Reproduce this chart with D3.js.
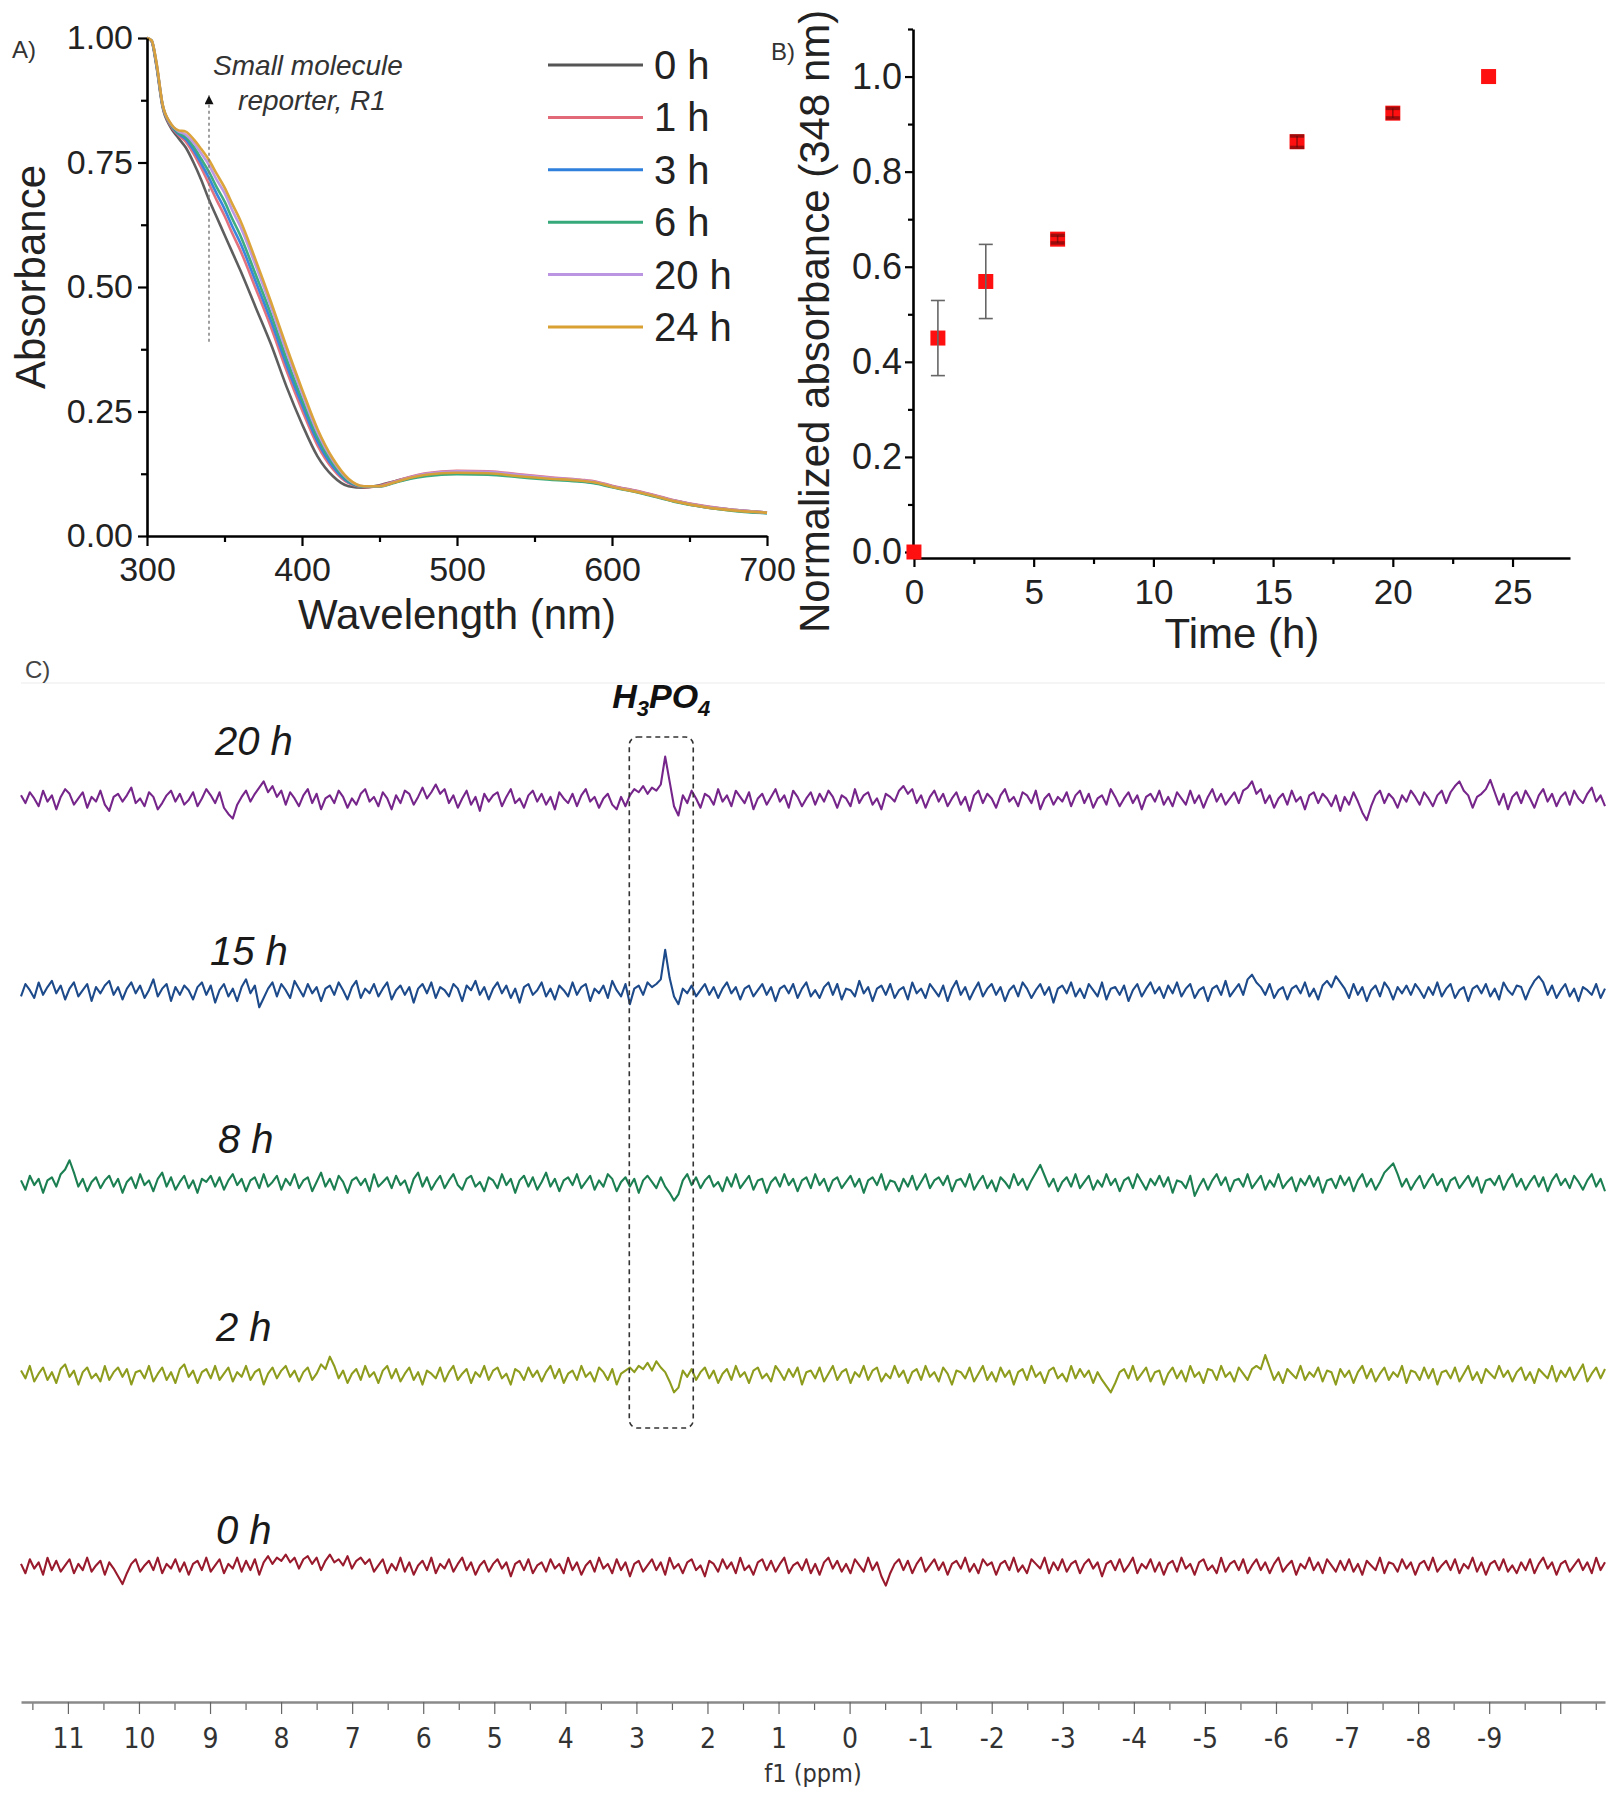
<!DOCTYPE html>
<html><head><meta charset="utf-8">
<script src="https://cdn.jsdelivr.net/npm/d3@7"></script>
<style>
body{margin:0;background:#fff;}
svg{display:block;}
</style></head><body>
<svg id="fig" width="1619" height="1800"></svg>
<script>
// ---------------- DATA ----------------
// Panel A: UV-vis spectra
const wavelengths = [300,303,306,310,315,320,325,330,335,340,345,350,355,360,370,380,390,400,410,420,430,440,450,460,470,480,500,520,540,560,580,590,600,620,640,660,680,700];
const spectrumLabels = ["0 h","1 h","3 h","6 h","20 h","24 h"];
const abs0h  = [1.00,.993,.945,.862,.822,.800,.780,.750,.715,.675,.640,.605,.570,.535,.460,.385,.300,.225,.160,.120,.100,.097,.102,.110,.118,.124,.128,.127,.121,.116,.111,.107,.100,.087,.071,.059,.052,.047];
const abs1h  = [1.00,.994,.948,.865,.825,.806,.792,.768,.739,.707,.674,.643,.608,.575,.498,.419,.332,.253,.182,.134,.106,.098,.101,.110,.119,.126,.131,.130,.124,.118,.113,.109,.101,.088,.072,.060,.052,.047];
const abs3h  = [1.00,.994,.949,.866,.827,.808,.797,.775,.748,.719,.687,.657,.622,.590,.512,.432,.344,.264,.190,.139,.108,.099,.100,.108,.116,.122,.126,.125,.120,.115,.110,.106,.099,.086,.070,.058,.051,.046];
const abs6h  = [1.00,.995,.950,.866,.828,.810,.801,.782,.757,.731,.700,.672,.637,.605,.526,.445,.356,.274,.198,.145,.110,.099,.099,.107,.115,.120,.124,.123,.118,.113,.109,.105,.098,.085,.069,.058,.050,.046];
const abs20h = [1.00,.995,.952,.867,.829,.813,.806,.790,.768,.745,.715,.689,.654,.623,.544,.460,.370,.287,.208,.151,.113,.100,.100,.109,.118,.125,.130,.129,.123,.117,.112,.108,.100,.087,.071,.059,.052,.047];
const abs24h = [1.00,.995,.953,.868,.830,.815,.812,.797,.777,.755,.727,.700,.667,.635,.555,.470,.380,.295,.215,.155,.115,.100,.100,.108,.117,.123,.127,.126,.120,.115,.111,.107,.099,.086,.070,.058,.051,.047];
const spectraValues = [abs0h, abs1h, abs3h, abs6h, abs20h, abs24h];
const spectraColors = ["#555555","#e26a78","#2f7fdc","#36a97a","#bb94e2","#d9a032"];
const absTicks = [0,0.25,0.5,0.75,1.0];
const absMinorTicks = [0.125,0.375,0.625,0.875];
const wlTicks = [300,400,500,600,700];
const wlMinorTicks = [350,450,550,650];

// Panel B: normalized absorbance at 348 nm
const timeH   = [0,1,3,6,16,20,24];
const normAbs = [0,0.450,0.569,0.658,0.863,0.923,1.000];
const normErr = [0,0.079,0.078,0.008,0.012,0.010,0];
const timeTicks = [0,5,10,15,20,25];
const timeMinorTicks = [2.5,7.5,12.5,17.5,22.5];
const normTicks = [0,0.2,0.4,0.6,0.8,1.0];
const normMinorTicks = [0.1,0.3,0.5,0.7,0.9,1.1];

// Panel C: 31P NMR traces (arbitrary intensity units), sampled from 11.66 to -10.63 ppm
const nmrLabels = ["20 h","15 h","8 h","2 h","0 h"];
const nmrColors = ["#76268a","#1d4a8a","#1b7f52","#8e9c1e","#981a2c"];
const ppmStart = 11.66, ppmEnd = -10.63;
const nmr20h = [3,-2,5,1,-4,6,-1,3,-6,2,7,4,-3,1,5,-5,2,-1,6,-3,
-7,2,4,-1,3,8,-2,1,-4,5,2,-6,-2,3,6,-1,4,-3,0,5,
-4,1,7,3,-2,5,-5,-9,-12,-3,2,6,-1,4,8,12,5,9,2,6,
-3,5,1,-4,3,7,-2,4,-6,1,3,-2,6,2,-5,1,-3,4,7,-1,
2,-4,5,1,-6,3,-2,6,4,-3,2,8,1,5,10,4,7,-2,3,-5,
1,6,-3,2,-7,4,-1,3,5,-4,2,7,-2,1,-5,3,6,-1,4,-3,
2,-6,5,1,-2,4,-4,3,7,-1,2,-5,1,4,-3,-6,2,-4,3,7,
5,9,4,8,6,10,28,12,-4,-10,3,-2,6,1,-5,4,2,-3,7,-1,
3,-4,6,2,-2,5,-6,1,4,-3,2,7,-1,3,-5,6,2,-4,1,5,
-3,4,-1,6,2,-5,3,1,-4,7,-2,3,5,-3,1,-6,4,2,-1,6,
9,4,7,-2,3,-5,2,6,-1,4,-4,1,5,-3,2,-7,3,6,-2,4,
1,-5,3,7,-1,2,-4,5,3,-2,6,-6,1,4,-3,2,-1,5,-4,3,
6,-2,4,-5,1,3,-3,7,2,-4,1,5,-2,3,-6,2,4,-1,6,-3,
2,-4,5,1,-3,6,-2,3,-5,2,7,-1,4,-3,1,5,-2,6,8,12,
4,7,-2,3,-5,1,4,-3,6,-1,2,-6,3,5,-2,4,1,-4,3,-7,
2,-3,5,-1,-8,-13,-4,3,6,-2,4,1,-5,3,-1,6,2,-3,5,1,
-4,3,6,-2,5,9,12,6,3,-5,2,4,7,13,5,-3,4,-6,2,5,
-2,6,1,-5,3,7,-1,4,-4,2,5,-3,6,1,-2,4,8,-1,3,-4];
const nmr15h = [-3,5,1,-4,6,-2,3,7,-1,4,-5,2,6,-3,1,5,-6,3,-1,4,
7,-2,3,-5,2,6,-1,4,-4,1,8,-3,2,5,-6,3,-2,4,1,-5,
3,6,-2,4,-7,1,5,-3,2,-6,3,8,-1,4,-10,-4,2,6,-3,5,
1,-4,7,2,-3,5,-1,3,-6,2,4,-2,6,1,-5,3,7,-4,2,-1,
5,-3,2,6,-5,1,4,-2,3,-7,2,5,-1,6,-4,3,1,-3,5,2,
-6,4,1,7,-2,3,-5,2,6,-1,4,-4,2,-7,3,5,-2,1,6,-3,
2,-5,4,1,-3,6,-2,3,5,-6,2,-1,4,-4,7,1,-3,5,-8,2,
4,-2,6,3,5,8,27,9,-3,-8,2,-1,4,-3,1,5,-2,3,-4,2,
6,-1,3,-5,2,4,-3,1,5,-2,3,-6,2,4,-1,5,-4,2,6,-3,
1,-4,3,6,-2,5,-5,2,1,-3,7,-1,3,-6,2,4,-2,5,-4,1,
3,-5,6,-1,2,-4,5,1,-3,4,-6,2,7,-2,3,-5,1,6,-3,2,
5,-2,3,-6,1,4,-3,6,2,-4,1,5,-2,3,-7,2,4,-1,6,-3,
2,-4,5,1,-3,6,-5,2,3,-2,4,-6,1,5,-3,2,6,-1,3,-4,
4,-1,6,-3,2,5,-4,1,3,-6,2,4,-2,7,-3,1,5,-2,8,11,
6,3,-2,5,-4,1,3,-5,2,4,-1,6,-3,2,-5,4,7,3,10,6,
2,-4,5,-2,3,-6,1,4,-3,6,2,-5,3,-1,4,-2,5,1,-4,3,
-2,6,-3,2,5,-4,1,3,-6,2,4,-1,5,-3,2,-5,6,1,-2,4,
3,-5,2,7,10,6,-2,4,-4,1,5,-3,2,-6,3,1,-2,5,-4,2];
const nmr8h = [2,-4,5,-1,3,-6,2,4,-2,6,9,15,7,-2,3,-5,1,4,-3,2,
5,-2,3,-6,1,4,-3,6,-1,2,-5,3,7,-2,4,-4,1,5,-3,2,
-6,3,1,5,-2,4,-4,2,6,-1,3,-5,2,4,-3,6,-2,1,5,-4,
3,-1,6,-3,2,4,-5,1,7,-2,3,-4,5,1,-6,2,4,-1,3,-5,
6,-2,1,4,-3,5,-1,2,-6,3,7,-2,4,-4,1,5,-3,2,6,-1,
-4,3,5,-2,1,-5,4,2,-3,6,-1,3,-6,2,5,-2,4,-4,1,7,
-2,3,-5,2,4,-1,6,-3,1,5,-4,2,-2,6,3,-5,1,4,-2,3,
-6,2,5,1,-3,4,-2,-6,-11,-7,2,6,-1,4,-3,2,5,-2,1,-5,
4,-2,6,-3,1,5,-4,2,3,-6,1,4,-2,6,-1,3,-5,2,4,-3,
6,-1,3,-5,2,4,-3,1,5,-2,3,-6,2,4,-1,6,-4,2,1,-5,
3,-2,5,-4,1,6,-3,2,4,-1,5,-5,2,3,-2,6,-4,1,5,-3,
2,-5,4,1,-3,6,-1,3,-4,2,7,12,5,-2,3,-5,1,4,-2,6,
-3,1,5,-4,2,-2,6,-1,3,-5,2,4,-3,6,1,-4,3,-1,5,-2,
4,-6,2,1,-3,5,-8,-2,3,-4,2,6,-1,4,-5,2,3,-2,6,-3,
1,5,-4,2,-2,6,-3,1,4,-5,3,-1,5,-2,4,-6,2,3,-3,5,
-1,4,-5,2,6,-2,3,-4,1,7,10,13,6,-2,3,-4,1,5,-3,2,
6,-1,3,-5,2,4,-3,1,5,-2,4,-6,2,3,-1,5,-4,2,6,-2,
3,-4,1,5,-2,4,-5,2,6,-1,3,-3,5,1,-4,2,6,-2,3,-5];
const nmr2h = [3,-2,6,-4,1,5,-3,2,-5,4,7,-1,3,-6,2,5,-2,1,-4,6,
-3,2,5,-1,4,-6,2,3,-2,6,-4,1,5,-3,2,-5,4,7,-1,3,
-5,2,4,-2,6,-3,1,5,-4,2,-1,6,-3,2,4,-6,1,5,-2,3,
6,-1,3,-4,2,5,-3,1,7,4,12,6,-2,3,-5,1,4,-3,6,-1,
2,-5,3,6,-2,4,-4,1,5,-3,2,-6,3,1,-2,5,-4,2,6,-3,
1,4,-5,2,-1,6,-3,3,5,-2,1,-6,4,2,-3,5,-1,3,-4,2,
6,-2,4,-5,1,3,-3,6,-1,2,-4,5,2,-3,4,-6,1,3,5,2,
6,4,8,3,9,5,2,-4,-11,-8,3,-1,4,-3,2,5,-2,3,-5,1,
4,-3,6,-1,2,-5,3,5,-2,1,-4,6,2,-3,4,-1,5,-6,2,3,
-2,5,-4,1,6,-3,2,4,-5,2,-1,6,-3,3,5,-4,1,-2,6,-1,
3,-5,2,4,-3,6,-1,2,-4,5,1,-6,3,2,-2,5,-4,1,6,-3,
2,-4,5,-1,3,-6,2,4,-3,6,-1,2,-5,3,5,-2,1,-4,6,-2,
4,-1,3,-5,2,-3,-7,-11,-5,2,4,-2,6,-3,1,5,-4,2,3,-6,
1,5,-2,3,-4,6,-1,2,-5,4,3,-3,6,-1,2,-4,5,1,-3,4,
6,4,13,5,-3,2,-5,4,1,-2,6,-3,2,-1,5,-4,3,2,-6,4,
-1,3,-5,2,6,-2,4,-4,1,5,-3,2,-1,6,-5,3,2,-3,5,-2,
4,-6,2,3,-2,5,-4,1,6,-3,2,-5,4,1,-2,6,-1,3,-4,2,
5,-3,2,-5,4,1,-2,6,-4,3,-1,5,-3,2,7,-4,1,5,-2,4];
const nmr0h = [2,-4,5,-1,3,-5,6,-2,4,-3,1,5,-4,2,-2,6,-3,1,4,-5,
3,-1,-6,-11,-4,2,5,-3,1,4,-2,6,-4,2,-1,5,-3,3,-5,2,
4,-2,6,-3,1,5,-4,2,-1,6,-3,4,-2,5,-5,3,7,2,6,4,
8,3,6,-1,5,7,2,6,-2,4,8,3,5,1,7,-1,4,6,2,5,
-3,1,5,-4,2,-2,6,-3,3,-5,1,4,-2,6,-4,2,-1,5,-3,2,
6,-2,3,-5,1,4,-3,2,5,-1,3,-6,2,4,-2,5,-4,1,3,-3,
5,-1,2,-4,6,-2,3,-5,1,4,-3,6,-1,2,-4,5,-2,3,-6,2,
4,-3,1,5,-2,3,-5,6,-1,2,-4,3,5,-2,1,-6,4,2,-3,5,
-1,3,-4,6,-2,1,-5,3,5,-2,4,-3,2,6,-4,1,3,-2,5,-4,
2,-5,3,6,-1,4,-3,2,-4,5,1,-3,6,-2,3,-6,-12,-4,2,5,
-2,4,-4,2,6,-3,1,5,-2,3,-5,2,4,-1,6,-3,2,-4,5,1,
3,-5,2,4,-2,6,-3,1,-4,5,2,-1,6,-4,3,-2,5,-3,2,4,
-4,2,5,-1,3,-6,2,4,-2,5,-3,1,6,-4,2,-1,5,-3,3,-5,
2,4,-3,6,-1,2,-5,3,5,-2,1,-4,6,-3,2,4,-2,5,-4,1,
5,-2,3,-4,2,6,-3,1,4,-5,2,-1,6,-2,3,-4,5,1,-3,4,
-2,5,-3,2,-5,4,1,-2,6,-4,3,2,-3,5,-1,3,-5,2,4,-2,
6,-3,1,4,-2,5,-4,2,-1,6,-3,3,-5,2,4,-2,5,-3,1,-4,
3,-2,5,-4,2,6,-1,3,-5,2,4,-3,1,5,-2,3,-4,6,-2,3];
const nmrValues = [nmr20h, nmr15h, nmr8h, nmr2h, nmr0h];
const ppmTickLabels = [11,10,9,8,7,6,5,4,3,2,1,0,-1,-2,-3,-4,-5,-6,-7,-8,-9];
const ppmMajorTicks = [11,10,9,8,7,6,5,4,3,2,1,0,-1,-2,-3,-4,-5,-6,-7,-8,-9,-10];
const ppmMinorTicks = [11.5,10.5,9.5,8.5,7.5,6.5,5.5,4.5,3.5,2.5,1.5,0.5,-0.5,-1.5,-2.5,-3.5,-4.5,-5.5,-6.5,-7.5,-8.5,-9.5,-10.5];
const boxPpm = [3.1, 2.2];

// ---------------- DRAW ----------------
const svg = d3.select("#fig");
const FONT = "'Liberation Sans', Arial, Helvetica, sans-serif";
svg.append("rect").attr("width",1619).attr("height",1800).attr("fill","#fff");

function styleAxis(g, fs){
  g.selectAll("path.domain").attr("stroke","#000").attr("stroke-width",2.6);
  g.selectAll(".tick line").attr("stroke","#000").attr("stroke-width",2.2);
  g.selectAll(".tick text").attr("font-family",FONT).attr("font-size",fs).attr("fill","#222");
}

// ===== Panel A =====
const xA = d3.scaleLinear().domain([300,700]).range([147,767]);
const yA = d3.scaleLinear().domain([0,1]).range([536,38]);
const gA = svg.append("g");

const line = d3.line().curve(d3.curveMonotoneX);
spectraValues.forEach((vals,i)=>{
  gA.append("path")
    .attr("d", line(wavelengths.map((w,j)=>[xA(w), yA(vals[j])])))
    .attr("fill","none").attr("stroke",spectraColors[i]).attr("stroke-width",2.6).attr("stroke-opacity",0.95);
});

gA.append("g").attr("transform","translate(0,536)")
  .call(d3.axisBottom(xA).tickValues(wlMinorTicks).tickSize(6).tickSizeOuter(0).tickFormat(""))
  .call(g=>{styleAxis(g,34); g.select(".domain").remove();});
gA.append("g").attr("transform","translate(147,0)")
  .call(d3.axisLeft(yA).tickValues(absMinorTicks).tickSize(6).tickSizeOuter(0).tickFormat(""))
  .call(g=>{styleAxis(g,34); g.select(".domain").remove();});
gA.append("g").attr("transform","translate(0,536)")
  .call(d3.axisBottom(xA).tickValues(wlTicks).tickSize(10).tickSizeOuter(0).tickPadding(11).tickFormat(d3.format("d")))
  .call(g=>styleAxis(g,34));
gA.append("g").attr("transform","translate(147,0)")
  .call(d3.axisLeft(yA).tickValues(absTicks).tickSize(9).tickSizeOuter(0).tickPadding(5).tickFormat(d3.format(".2f")))
  .call(g=>styleAxis(g,34));

gA.append("text").attr("x",xA(500)).attr("y",629).attr("text-anchor","middle")
  .attr("font-family",FONT).attr("font-size",42).attr("fill","#222").text("Wavelength (nm)");
gA.append("text").attr("transform","translate(45,"+yA(0.52)+") rotate(-90)").attr("text-anchor","middle")
  .attr("font-family",FONT).attr("font-size",42).attr("fill","#222").text("Absorbance");

// annotation arrow
svg.append("defs").append("marker").attr("id","arr").attr("viewBox","0 0 10 10")
  .attr("refX",10).attr("refY",5).attr("markerWidth",11).attr("markerHeight",9).attr("orient","auto")
  .attr("markerUnits","userSpaceOnUse")
  .append("path").attr("d","M0,0 L10,5 L0,10 Z").attr("fill","#111");
gA.append("line").attr("x1",xA(340)).attr("x2",xA(340)).attr("y1",yA(0.39)).attr("y2",yA(0.885))
  .attr("stroke","#777").attr("stroke-width",1.4).attr("stroke-dasharray","3,3")
  .attr("marker-end","url(#arr)");
gA.append("text").attr("x",308).attr("y",75).attr("text-anchor","middle").attr("font-family",FONT)
  .attr("font-style","italic").attr("font-size",28).attr("fill","#333").text("Small molecule");
gA.append("text").attr("x",312).attr("y",110).attr("text-anchor","middle").attr("font-family",FONT)
  .attr("font-style","italic").attr("font-size",28).attr("fill","#333").text("reporter, R1");

// legend
const legY = d3.scalePoint().domain(spectrumLabels).range([65,327]);
spectrumLabels.forEach((lab,i)=>{
  gA.append("line").attr("x1",548).attr("x2",643).attr("y1",legY(lab)).attr("y2",legY(lab))
    .attr("stroke",spectraColors[i]).attr("stroke-width",3);
  gA.append("text").attr("x",654).attr("y",legY(lab)+14).attr("font-family",FONT).attr("font-size",40)
    .attr("fill","#222").text(lab);
});
svg.append("text").attr("x",12).attr("y",58).attr("font-family",FONT).attr("font-size",24).attr("fill","#333").text("A)");

// ===== Panel B =====
const xB = d3.scaleLinear().domain([-0.04,27.4]).range([913,1570]);
const yB = d3.scaleLinear().domain([-0.0126,1.1]).range([558,29]);
const gB = svg.append("g");
gB.append("g").attr("transform","translate(0,558)")
  .call(d3.axisBottom(xB).tickValues(timeMinorTicks).tickSize(6).tickSizeOuter(0).tickFormat(""))
  .call(g=>{styleAxis(g,34); g.select(".domain").remove();});
gB.append("g").attr("transform","translate(913,0)")
  .call(d3.axisLeft(yB).tickValues(normMinorTicks).tickSize(5).tickSizeOuter(0).tickFormat(""))
  .call(g=>{styleAxis(g,34); g.select(".domain").remove();});
gB.append("g").attr("transform","translate(0,558)")
  .call(d3.axisBottom(xB).tickValues(timeTicks).tickSize(9).tickSizeOuter(0).tickPadding(12).tickFormat(d3.format("d")))
  .call(g=>styleAxis(g,35));
gB.append("g").attr("transform","translate(913,0)")
  .call(d3.axisLeft(yB).tickValues(normTicks).tickSize(8).tickSizeOuter(0).tickPadding(3).tickFormat(d3.format(".1f")))
  .call(g=>styleAxis(g,36));

const sq = d3.symbol(d3.symbolSquare, 15*15);
timeH.forEach((t,i)=>{
  gB.append("path").attr("d",sq()).attr("transform",`translate(${xB(t)},${yB(normAbs[i])})`).attr("fill","#ff1010");
});
timeH.forEach((t,i)=>{
  if(normErr[i]<=0) return;
  const x = xB(t), y1 = yB(normAbs[i]-normErr[i]), y2 = yB(normAbs[i]+normErr[i]);
  const big = normErr[i] > 0.03;
  const col = big ? "#666" : "#5a0a0a";
  gB.append("line").attr("x1",x).attr("x2",x).attr("y1",y1).attr("y2",y2).attr("stroke",col).attr("stroke-width",1.6).attr("stroke-opacity",big?1:0.6);
  [y1,y2].forEach(y=>gB.append("line").attr("x1",x-7).attr("x2",x+7).attr("y1",y).attr("y2",y)
    .attr("stroke",col).attr("stroke-width", big ? 1.6 : 3.5).attr("stroke-opacity",big?1:0.6));
});
gB.append("text").attr("x",xB(13.7)).attr("y",648).attr("text-anchor","middle")
  .attr("font-family",FONT).attr("font-size",42).attr("fill","#222").text("Time (h)");
gB.append("text").attr("transform","translate(829,"+yB(0.485)+") rotate(-90)").attr("text-anchor","middle")
  .attr("font-family",FONT).attr("font-size",42).attr("fill","#222").text("Normalized absorbance (348 nm)");
svg.append("text").attr("x",771).attr("y",60).attr("font-family",FONT).attr("font-size",24).attr("fill","#333").text("B)");

// ===== Panel C =====
const xC = d3.scaleLinear().domain([ppmStart,ppmEnd]).range([21,1605]);
const yC = d3.scalePoint().domain(nmrLabels).range([800,1567]);
const amp = d3.scaleLinear().domain([-40,40]).range([62,-62]);
const gC = svg.append("g");
gC.append("line").attr("x1",xC(ppmStart)).attr("x2",xC(ppmEnd)).attr("y1",683).attr("y2",683)
  .attr("stroke","#ececec").attr("stroke-width",1.2);

const labelDx = [215,210,218,216,216];
const labelDy = [-45,-27,-31,-34,-23];
nmrLabels.forEach((lab,i)=>{
  const vals = nmrValues[i];
  const n = vals.length;
  const ppm = d3.range(n).map(k => ppmStart + (ppmEnd-ppmStart)*k/(n-1));
  gC.append("path")
    .attr("d", d3.line()(vals.map((v,k)=>[xC(ppm[k]), yC(lab)+amp(v)])))
    .attr("fill","none").attr("stroke",nmrColors[i]).attr("stroke-width",2.1).attr("stroke-linejoin","round");
  gC.append("text").attr("x",labelDx[i]).attr("y",yC(lab)+labelDy[i]).attr("font-family",FONT)
    .attr("font-style","italic").attr("font-size",40).attr("fill","#1a1a1a").text(lab);
});

// dashed box around H3PO4
gC.append("rect").attr("x",xC(boxPpm[0])).attr("y",737).attr("width",xC(boxPpm[1])-xC(boxPpm[0])).attr("height",691)
  .attr("rx",8).attr("fill","none").attr("stroke","#333").attr("stroke-width",1.6).attr("stroke-dasharray","5,4");
const h = gC.append("text").attr("x",xC((boxPpm[0]+boxPpm[1])/2)).attr("y",708).attr("text-anchor","middle")
  .attr("font-family",FONT).attr("font-style","italic").attr("font-weight","bold").attr("font-size",34).attr("fill","#111");
h.append("tspan").text("H");
h.append("tspan").attr("font-size",22).attr("dy",8).text("3");
h.append("tspan").attr("dy",-8).text("PO");
h.append("tspan").attr("font-size",22).attr("dy",8).text("4");

// ppm axis
const CF = "'DejaVu Sans Condensed','DejaVu Sans',Verdana,sans-serif";
gC.append("g").attr("transform","translate(0,1702)")
  .call(d3.axisBottom(xC).tickValues(ppmMinorTicks).tickSize(8).tickSizeOuter(0).tickFormat(""))
  .call(g=>{g.select(".domain").remove(); g.selectAll(".tick line").attr("stroke","#666").attr("stroke-width",1.2);});
gC.append("g").attr("transform","translate(0,1702)")
  .call(d3.axisBottom(xC).tickValues(ppmMajorTicks).tickSize(12).tickSizeOuter(0).tickPadding(14)
        .tickFormat(d => ppmTickLabels.includes(d) ? String(d) : ""))
  .call(g=>{
    g.select(".domain").attr("stroke","#8a8a8a").attr("stroke-width",2.6);
    g.selectAll(".tick line").attr("stroke","#666").attr("stroke-width",1.2);
    g.selectAll(".tick text").attr("font-family",CF).attr("font-stretch","condensed").attr("font-size",28).attr("fill","#333");
  });
gC.append("text").attr("x",xC((ppmStart+ppmEnd)/2)).attr("y",1782).attr("text-anchor","middle")
  .attr("font-family",CF).attr("font-stretch","condensed").attr("font-size",25).attr("fill","#333").text("f1 (ppm)");
svg.append("text").attr("x",25).attr("y",678).attr("font-family",FONT).attr("font-size",24).attr("fill","#444").text("C)");
</script>
</body></html>
